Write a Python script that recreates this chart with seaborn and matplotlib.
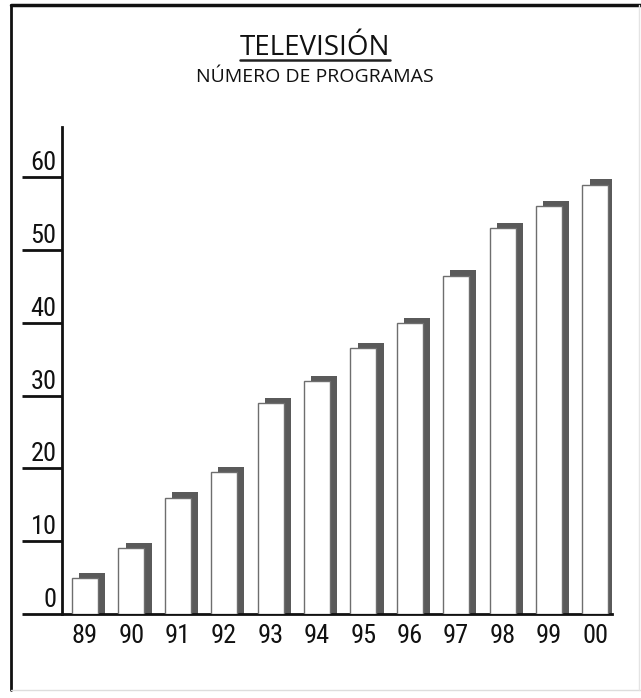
import matplotlib
matplotlib.use("Agg")
import matplotlib.pyplot as plt
import seaborn as sns
import numpy as np
from matplotlib.lines import Line2D

years = ["89", "90", "91", "92", "93", "94", "95", "96", "97", "98", "99", "00"]
programas = [5, 9, 16, 19.5, 29, 32, 36.5, 40, 46.5, 53, 56, 59]
y_ticks = [0, 10, 20, 30, 40, 50, 60]

sns.set_style("white")
plt.rcParams["font.family"] = ["Liberation Sans Narrow", "Roboto Condensed",
                               "DejaVu Sans Condensed", "Roboto", "DejaVu Sans"]

fig = plt.figure(figsize=(6.41, 6.98), dpi=100)
ax = fig.add_axes([62 / 641, 84 / 698, 550 / 641, 487 / 698])

sns.barplot(x=years, y=programas, color="white", edgecolor="#6e6e6e",
            linewidth=1.0, width=0.56, saturation=1, ax=ax)
for p in ax.patches:
    p.set_zorder(3)

# dark shadow behind each bar (offset right and up)
pos = np.arange(len(years))
ax.bar(pos + 0.155, np.array(programas) + 0.7, width=0.56,
       color="#5a5a5a", zorder=2, linewidth=0)

ax.set_xlim(-0.496, 11.36)
ax.set_ylim(0, 66.9)

for s in ["top", "right"]:
    ax.spines[s].set_visible(False)
ax.spines["left"].set_linewidth(2)
ax.spines["bottom"].set_linewidth(2)
ax.spines["left"].set_color("#111111")
ax.spines["bottom"].set_color("#111111")

ax.set_yticks(y_ticks)
ax.tick_params(axis="y", length=29, width=2, color="#111111",
               direction="out", left=True, labelleft=False)
ax.tick_params(axis="x", length=0, pad=7, labelsize=19, colors="#111111")
for v in y_ticks:
    ax.annotate(str(v), xy=(0, v), xycoords=("axes fraction", "data"),
                xytext=(-4, 1.5), textcoords="offset points",
                ha="right", va="bottom", fontsize=19, color="#111111")
ax.set_xlabel("")
ax.set_ylabel("")

# titles
title = fig.text(315 / 641, 1 - 55 / 698, "TELEVISIÓN", ha="center",
                 va="baseline", fontsize=20, family=["Open Sans", "DejaVu Sans"],
                 color="#111111")
fig.text(315 / 641, 1 - 82 / 698, "NÚMERO DE PROGRAMAS", ha="center",
         va="baseline", fontsize=14, family=["Open Sans", "DejaVu Sans"],
         color="#111111")
fig.canvas.draw()
bb = title.get_window_extent().transformed(fig.transFigure.inverted())
yline = 1 - 60 / 698
fig.add_artist(Line2D([bb.x0, bb.x1], [yline, yline], color="#222222", lw=1.8))

# outer frame
fig.add_artist(Line2D([11 / 641, 11 / 641], [1 - 690 / 698, 1 - 5 / 698],
                      color="#111111", lw=2))
fig.add_artist(Line2D([11 / 641, 1], [1 - 5 / 698, 1 - 5 / 698],
                      color="#111111", lw=2.5))
fig.add_artist(Line2D([11 / 641, 1], [1 - 690 / 698, 1 - 690 / 698],
                      color="#dddddd", lw=1))
fig.add_artist(Line2D([639 / 641, 639 / 641], [1 - 690 / 698, 1 - 5 / 698],
                      color="#e4e4e4", lw=1))

fig.savefig("out.png", dpi=100)
